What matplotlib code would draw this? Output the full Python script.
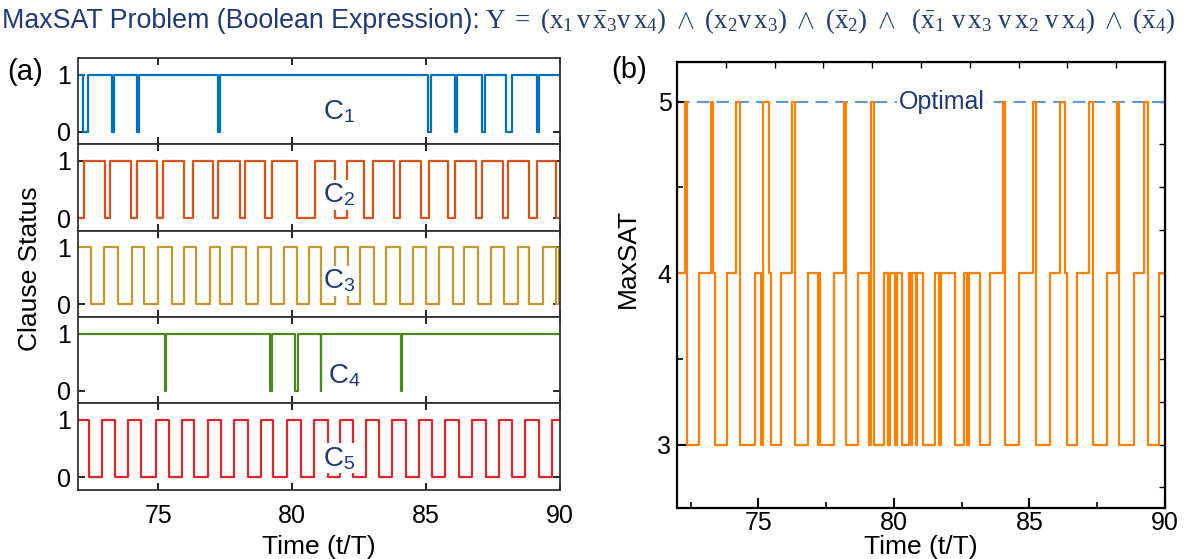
import matplotlib
matplotlib.use("Agg")
import matplotlib.pyplot as plt

plt.rcParams['font.family'] = ['Liberation Sans', 'DejaVu Sans']
plt.rcParams['mathtext.fontset'] = 'custom'
plt.rcParams['mathtext.rm'] = 'Liberation Serif'
plt.rcParams['mathtext.it'] = 'Liberation Serif:italic'
plt.rcParams['mathtext.sf'] = 'Liberation Sans'
plt.rcParams['mathtext.bf'] = 'Liberation Serif:bold'

navy = '#1F3A78'

# ---------------- clause status: switch times and value from that time on
c1_t = [72.00, 72.20, 72.37, 73.27, 73.33, 74.20, 74.28, 77.23, 77.30, 85.06,
        85.20, 86.08, 86.16, 87.10, 87.19, 88.00, 88.20, 89.13, 89.23]
c1_v = [1, 0, 1, 0, 1, 0, 1, 0, 1, 0,
        1, 0, 1, 0, 1, 0, 1, 0, 1]

c2_t = [72.00, 72.23, 73.00, 73.20, 73.98, 74.19, 74.96, 75.17, 75.97, 76.28,
        77.06, 77.24, 78.05, 78.24, 79.00, 79.23, 80.18, 80.85, 81.60, 82.03,
        82.67, 83.02, 83.81, 84.02, 84.80, 85.09, 85.82, 86.08, 86.86, 87.10,
        87.86, 88.07, 88.85, 89.13, 89.84]
c2_v = [0, 1, 0, 1, 0, 1, 0, 1, 0, 1,
        0, 1, 0, 1, 0, 1, 0, 1, 0, 1,
        0, 1, 0, 1, 0, 1, 0, 1, 0, 1,
        0, 1, 0, 1, 0]

c3_t = [72.00, 72.47, 72.98, 73.51, 74.01, 74.46, 74.97, 75.50, 75.97, 76.42,
        76.92, 77.30, 77.77, 78.27, 78.72, 79.19, 79.69, 80.18, 80.61, 81.08,
        81.60, 82.10, 82.53, 83.07, 83.52, 84.02, 84.52, 85.01, 85.48, 86.01,
        86.43, 86.93, 87.43, 87.90, 88.42, 88.85, 89.35, 89.84, 89.96]
c3_v = [1, 0, 1, 0, 1, 0, 1, 0, 1, 0,
        1, 0, 1, 0, 1, 0, 1, 0, 1, 0,
        1, 0, 1, 0, 1, 0, 1, 0, 1, 0,
        1, 0, 1, 0, 1, 0, 1, 0, 1]

c4_t = [72.00, 75.24, 75.27, 79.17, 79.25, 80.12, 80.22, 81.06, 81.09, 84.08,
        84.11]
c4_v = [1, 0, 1, 0, 1, 0, 1, 0, 1, 0,
        1]

c5_t = [72.00, 72.41, 72.90, 73.37, 73.86, 74.36, 74.93, 75.40, 75.88, 76.35,
        76.85, 77.34, 77.84, 78.34, 78.84, 79.29, 79.80, 80.33, 80.82, 81.32,
        81.79, 82.27, 82.74, 83.24, 83.74, 84.23, 84.73, 85.23, 85.72, 86.22,
        86.72, 87.22, 87.71, 88.21, 88.71, 89.20, 89.70]
c5_v = [1, 0, 1, 0, 1, 0, 1, 0, 1, 0,
        1, 0, 1, 0, 1, 0, 1, 0, 1, 0,
        1, 0, 1, 0, 1, 0, 1, 0, 1, 0,
        1, 0, 1, 0, 1, 0, 1]

# ---------------- number of satisfied clauses
maxsat_t = [72.00, 72.28, 72.36, 72.81, 73.25, 73.32, 73.40, 73.83, 74.19, 74.34,
            74.89, 75.11, 75.18, 75.38, 75.45, 75.82, 76.25, 76.36, 76.82, 77.19,
            77.23, 77.27, 77.80, 78.15, 78.25, 78.67, 79.07, 79.16, 79.25, 79.62,
            79.80, 79.87, 80.05, 80.11, 80.29, 80.57, 80.62, 80.67, 80.82, 80.87,
            81.06, 81.52, 81.67, 81.72, 82.25, 82.58, 82.68, 82.78, 83.17, 83.55,
            84.04, 84.11, 84.63, 85.13, 85.23, 85.75, 86.13, 86.31, 86.38, 86.75,
            87.18, 87.34, 87.87, 88.22, 88.30, 88.86, 89.24, 89.38, 89.79]
maxsat_v = [4, 5, 3, 4, 5, 4, 3, 4, 5, 3,
            4, 3, 5, 4, 3, 4, 5, 3, 4, 3,
            4, 3, 4, 5, 3, 4, 3, 5, 3, 4,
            3, 4, 3, 4, 3, 4, 3, 4, 3, 4,
            3, 4, 3, 4, 3, 4, 3, 4, 3, 4,
            5, 3, 4, 5, 3, 4, 5, 4, 3, 4,
            5, 3, 4, 5, 3, 4, 5, 3, 4]
optimal = 5

clauses = [(c1_t, c1_v, '#0072BD', '1', 81.75, 0.36),
           (c2_t, c2_v, '#D95319', '2', 81.75, 0.41),
           (c3_t, c3_v, '#C49A2C', '3', 81.75, 0.41),
           (c4_t, c4_v, '#4A8A1C', '4', 81.95, 0.26),
           (c5_t, c5_v, '#E0262B', '5', 81.75, 0.33)]

t_end = 90.0
time_ticks = [75, 80, 85, 90]

fig = plt.figure(figsize=(11.85, 5.59), dpi=100)

# ---------------- (a) clause status panels
left, width = 0.0658, 0.4068
top, bottom = 0.8962, 0.124
h = (top - bottom) / 5
axes_a = []
for i, (tt, vv, col, k, xlab, ylab) in enumerate(clauses):
    assert len(tt) == len(vv)
    ax = fig.add_axes([left, top - (i + 1) * h, width, h])
    ax.step(tt + [t_end], vv + [vv[-1]], where='post', color=col, lw=1.6)
    ax.set_xlim(72, 90)
    ax.set_ylim(-0.22, 1.29)
    ax.set_yticks([0, 1])
    ax.set_xticks(time_ticks)
    ax.tick_params(direction='in', top=True, right=True, length=5,
                   width=1.2, labelsize=18, pad=5)
    ax.tick_params(axis='x', pad=10)
    for s in ax.spines.values():
        s.set_linewidth(1.3)
        s.set_color('#333333')
    if i < 4:
        ax.tick_params(labelbottom=False)
    ax.text(xlab, ylab, 'C$_\\mathsf{' + k + '}$', color=navy, fontsize=20,
            ha='center', va='center',
            bbox=dict(facecolor='white', edgecolor='none', pad=1.0))
    axes_a.append(ax)
axes_a[-1].set_xlabel('Time (t/T)', fontsize=19, labelpad=5)
fig.text(0.025, 0.52, 'Clause Status', rotation=90, fontsize=19,
         ha='center', va='center')

# ---------------- (b) MaxSAT panel
assert len(maxsat_t) == len(maxsat_v)
axb = fig.add_axes([0.5713, 0.0912, 0.4118, 0.7978])
axb.step(maxsat_t + [t_end], maxsat_v + [maxsat_v[-1]], where='post',
         color='#FF8000', lw=1.6)
axb.axhline(optimal, color='#5B9BD5', lw=1.5, ls=(0, (6, 3.5)), zorder=1)
axb.text(81.75, optimal, 'Optimal', color=navy, fontsize=18, ha='center',
         va='center', bbox=dict(facecolor='white', edgecolor='none', pad=1.0))
axb.set_xlim(72, 90)
axb.set_ylim(2.63, 5.23)
axb.set_xticks(time_ticks)
axb.set_xticks([72.5, 77.5, 82.5, 87.5], minor=True)
axb.set_yticks([3, 4, 5])
axb.set_yticks([3.5, 4.5], minor=True)
axb.tick_params(which='major', direction='in', length=7, width=1.5,
                labelsize=18, pad=4)
axb.tick_params(axis='x', which='major', pad=2)
axb.tick_params(which='minor', direction='in', length=4, width=1.2)
for s in axb.spines.values():
    s.set_linewidth(1.6)
    s.set_color('black')
axb.set_xlabel('Time (t/T)', fontsize=19, labelpad=0)
axb.set_ylabel('MaxSAT', fontsize=19)
axb.yaxis.set_label_coords(-0.076, 0.56)

sec_top = axb.secondary_xaxis('top')
sec_top.set_xticks([73.8, 75.6, 77.4, 79.2, 81.0, 82.8, 84.6, 86.4, 88.2])
sec_top.tick_params(direction='in', length=4, width=1.0, labeltop=False)
sec_right = axb.secondary_yaxis('right')
sec_right.set_yticks([2.75, 3.0, 3.25, 3.5, 3.75, 4.0, 4.25, 4.5, 4.75, 5.0])
sec_right.tick_params(direction='in', length=4, width=1.0, labelright=False)

# ---------------- panel labels and title
fig.text(0.006, 0.872, '(a)', fontsize=21, va='center', ha='left')
fig.text(0.516, 0.874, '(b)', fontsize=21, va='center', ha='left')

expr = (r'$\mathrm{Y}\ =\ (\mathrm{x}_1\,\mathrm{v}\,\bar{\mathrm{x}}_3\mathrm{v}\,\mathrm{x}_4)'
        r'\ \wedge\ (\mathrm{x}_2\mathrm{v}\,\mathrm{x}_3)\ \wedge\ (\bar{\mathrm{x}}_2)'
        r'\ \wedge\ \ (\bar{\mathrm{x}}_1\ \mathrm{v}\,\mathrm{x}_3\ \mathrm{v}\,\mathrm{x}_2'
        r'\ \mathrm{v}\,\mathrm{x}_4)\ \wedge\ (\bar{\mathrm{x}}_4)$')
title_a = fig.text(0.002, 0.962, 'MaxSAT Problem (Boolean Expression):',
                   color=navy, fontsize=19.3, ha='left', va='center')
fig.canvas.draw()
bb = title_a.get_window_extent(fig.canvas.get_renderer())
fig.text(bb.x1 / fig.bbox.width + 0.004, 0.962, expr,
         color=navy, fontsize=19.4, ha='left', va='center')

fig.savefig('out.png', dpi=100)
